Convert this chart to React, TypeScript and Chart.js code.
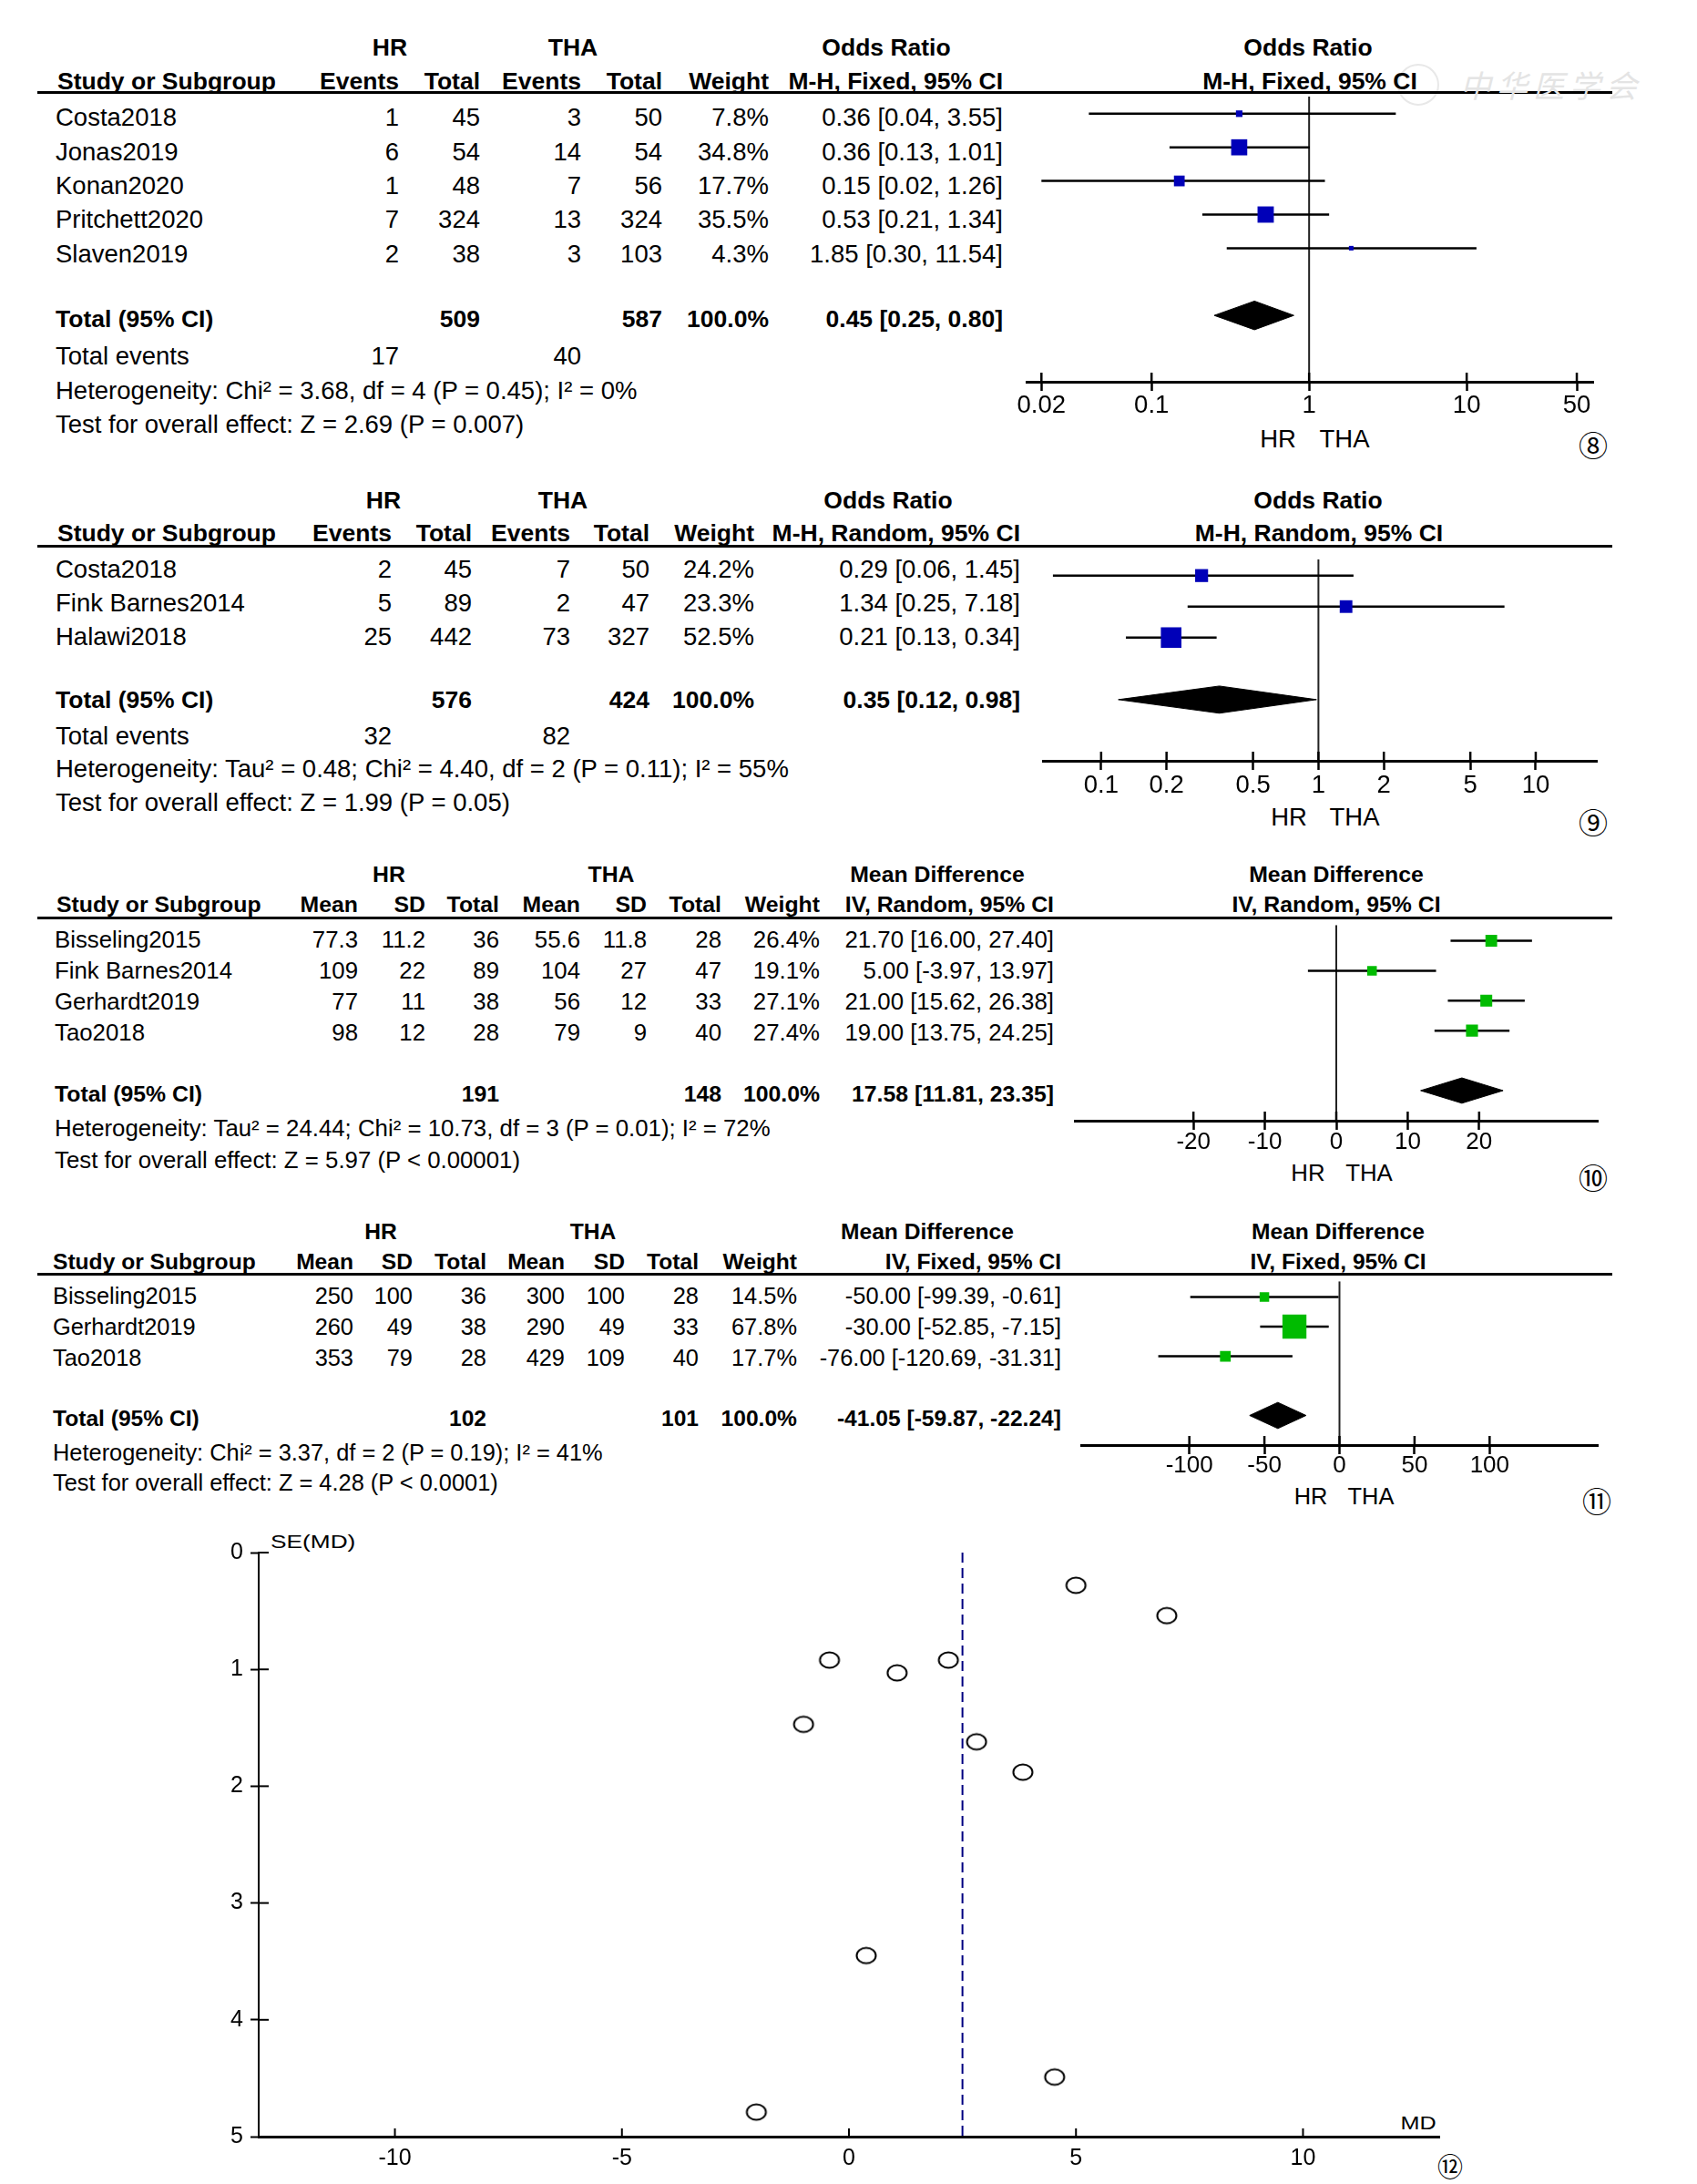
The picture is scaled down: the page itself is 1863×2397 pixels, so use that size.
import React, { useEffect, useRef } from "react";
import { Chart, registerables } from "chart.js";

Chart.register(...registerables);

const W = 1863;
const H = 2397;
const FONT = '"Liberation Sans", Arial, Helvetica, sans-serif';
const CJK = '"Noto Sans CJK SC", "Noto Sans CJK JP", sans-serif';

// ---------- Panel 8 : Odds Ratio, M-H fixed ----------
const p8Studies = ["Costa2018", "Jonas2019", "Konan2020", "Pritchett2020", "Slaven2019"];
const p8HrEvents = [1, 6, 1, 7, 2];
const p8HrTotal = [45, 54, 48, 324, 38];
const p8ThaEvents = [3, 14, 7, 13, 3];
const p8ThaTotal = [50, 54, 56, 324, 103];
const p8Weight = [7.8, 34.8, 17.7, 35.5, 4.3];
const p8Est = [0.36, 0.36, 0.15, 0.53, 1.85];
const p8Lo = [0.04, 0.13, 0.02, 0.21, 0.3];
const p8Hi = [3.55, 1.01, 1.26, 1.34, 11.54];
const p8Pooled = [0.45, 0.25, 0.8];
const p8Totals = [509, 587];
const p8Events = [17, 40];
const p8Ticks = [0.02, 0.1, 1, 10, 50];
const p8Het = "Heterogeneity: Chi² = 3.68, df = 4 (P = 0.45); I² = 0%";
const p8Test = "Test for overall effect: Z = 2.69 (P = 0.007)";

// ---------- Panel 9 : Odds Ratio, M-H random ----------
const p9Studies = ["Costa2018", "Fink Barnes2014", "Halawi2018"];
const p9HrEvents = [2, 5, 25];
const p9HrTotal = [45, 89, 442];
const p9ThaEvents = [7, 2, 73];
const p9ThaTotal = [50, 47, 327];
const p9Weight = [24.2, 23.3, 52.5];
const p9Est = [0.29, 1.34, 0.21];
const p9Lo = [0.06, 0.25, 0.13];
const p9Hi = [1.45, 7.18, 0.34];
const p9Pooled = [0.35, 0.12, 0.98];
const p9Totals = [576, 424];
const p9Events = [32, 82];
const p9Ticks = [0.1, 0.2, 0.5, 1, 2, 5, 10];
const p9Het = "Heterogeneity: Tau² = 0.48; Chi² = 4.40, df = 2 (P = 0.11); I² = 55%";
const p9Test = "Test for overall effect: Z = 1.99 (P = 0.05)";

// ---------- Panel 10 : Mean Difference, IV random ----------
const p10Studies = ["Bisseling2015", "Fink Barnes2014", "Gerhardt2019", "Tao2018"];
const p10HrMean = [77.3, 109, 77, 98];
const p10HrSD = [11.2, 22, 11, 12];
const p10HrTotal = [36, 89, 38, 28];
const p10ThaMean = [55.6, 104, 56, 79];
const p10ThaSD = [11.8, 27, 12, 9];
const p10ThaTotal = [28, 47, 33, 40];
const p10Weight = [26.4, 19.1, 27.1, 27.4];
const p10Est = [21.7, 5.0, 21.0, 19.0];
const p10Lo = [16.0, -3.97, 15.62, 13.75];
const p10Hi = [27.4, 13.97, 26.38, 24.25];
const p10Pooled = [17.58, 11.81, 23.35];
const p10Totals = [191, 148];
const p10Ticks = [-20, -10, 0, 10, 20];
const p10Het = "Heterogeneity: Tau² = 24.44; Chi² = 10.73, df = 3 (P = 0.01); I² = 72%";
const p10Test = "Test for overall effect: Z = 5.97 (P < 0.00001)";

// ---------- Panel 11 : Mean Difference, IV fixed ----------
const p11Studies = ["Bisseling2015", "Gerhardt2019", "Tao2018"];
const p11HrMean = [250, 260, 353];
const p11HrSD = [100, 49, 79];
const p11HrTotal = [36, 38, 28];
const p11ThaMean = [300, 290, 429];
const p11ThaSD = [100, 49, 109];
const p11ThaTotal = [28, 33, 40];
const p11Weight = [14.5, 67.8, 17.7];
const p11Est = [-50.0, -30.0, -76.0];
const p11Lo = [-99.39, -52.85, -120.69];
const p11Hi = [-0.61, -7.15, -31.31];
const p11Pooled = [-41.05, -59.87, -22.24];
const p11Totals = [102, 101];
const p11Ticks = [-100, -50, 0, 50, 100];
const p11Het = "Heterogeneity: Chi² = 3.37, df = 2 (P = 0.19); I² = 41%";
const p11Test = "Test for overall effect: Z = 4.28 (P < 0.0001)";

// ---------- Panel 12 : funnel plot ----------
const funnelMD = [5.0, 7.0, -0.43, 1.06, 2.19, -1.0, 2.81, 3.83, 0.38, 4.53, -2.04];
const funnelSE = [0.28, 0.54, 0.92, 1.03, 0.92, 1.47, 1.62, 1.88, 3.45, 4.49, 4.79];
const funnelPooled = 2.5;
const funnelXTicks = [-10, -5, 0, 5, 10];
const funnelYTicks = [0, 1, 2, 3, 4, 5];

// ---------- helpers ----------
const f2 = (v: number) => v.toFixed(2);
const ci = (e: number, l: number, h: number) => `${f2(e)} [${f2(l)}, ${f2(h)}]`;
const pct = (w: number) => `${w.toFixed(1)}%`;

type TextItem = { t: string; x: number; y: number; a?: "l" | "r" | "c"; b?: boolean; s?: number; c?: string; f?: string; sx?: number; i?: boolean; ls?: number };

function renderTexts(items: TextItem[], keyBase: string) {
  return items.map((it, k) => {
    const s = it.s ?? (it.b ? 26.5 : 27.5);
    const lh = Math.round(s * 1.2);
    const st: any = {
      position: "absolute",
      top: it.y - lh / 2,
      height: lh,
      lineHeight: `${lh}px`,
      fontSize: s,
      fontWeight: it.b ? 700 : 400,
      fontStyle: it.i ? "italic" : "normal",
      fontFamily: it.f ?? FONT,
      color: it.c ?? "#000",
      whiteSpace: "pre",
      margin: 0,
    };
    if (it.ls) st.letterSpacing = it.ls;
    if (it.a === "r") {
      st.right = W - it.x;
      st.textAlign = "right";
    } else if (it.a === "c") {
      st.left = it.x - 400;
      st.width = 800;
      st.textAlign = "center";
    } else st.left = it.x;
    if (it.sx) {
      st.transform = `scaleX(${it.sx})`;
      st.transformOrigin = it.a === "c" ? "center" : "left";
    }
    return (
      <div key={keyBase + k} style={st}>
        {it.t}
      </div>
    );
  });
}

type PanelText = {
  fs: number;
  fb: number;
  heads: [string, number][];
  headY: number;
  colHeads: string[];
  cols: number[];
  colY: number;
  studyX: number;
  names: string[];
  cells: string[][];
  rowYs: number[];
  nameX: number;
  totalY: number;
  totalCells: string[];
  eventsY?: number;
  eventsCells?: string[];
  notes: [string, number][];
  fTitle: string;
  fSub: string;
  fX: number;
  fX2: number;
  hrY: number;
  hrX: number;
  thaX: number;
  circ: string;
  circX: number;
  circY: number;
};

function tableTexts(p: PanelText): TextItem[] {
  const out: TextItem[] = [];
  const n = p.fs;
  const b = p.fb;
  p.heads.forEach(([t, x]) => out.push({ t, x, y: p.headY, a: "c", b: true, s: b }));
  out.push({ t: "Study or Subgroup", x: p.studyX, y: p.colY, b: true, s: b });
  p.colHeads.forEach((t, i) => out.push({ t, x: p.cols[i], y: p.colY, a: "r", b: true, s: b }));
  p.names.forEach((nm, i) => {
    out.push({ t: nm, x: p.nameX, y: p.rowYs[i], s: n });
    p.cells[i].forEach((c, j) => out.push({ t: c, x: p.cols[j], y: p.rowYs[i], a: "r", s: n }));
  });
  out.push({ t: "Total (95% CI)", x: p.nameX, y: p.totalY, b: true, s: b });
  p.totalCells.forEach((c, j) => {
    if (c) out.push({ t: c, x: p.cols[j], y: p.totalY, a: "r", b: true, s: b });
  });
  if (p.eventsCells && p.eventsY) {
    out.push({ t: "Total events", x: p.nameX, y: p.eventsY, s: n });
    p.eventsCells.forEach((c, j) => {
      if (c) out.push({ t: c, x: p.cols[j], y: p.eventsY as number, a: "r", s: n });
    });
  }
  p.notes.forEach(([t, y]) => out.push({ t, x: p.nameX, y, s: n }));
  out.push({ t: p.fTitle, x: p.fX, y: p.headY, a: "c", b: true, s: b });
  out.push({ t: p.fSub, x: p.fX2, y: p.colY, a: "c", b: true, s: b });
  out.push({ t: "HR", x: p.hrX, y: p.hrY, a: "c", s: n });
  out.push({ t: "THA", x: p.thaX, y: p.hrY, a: "c", s: n });
  out.push({ t: p.circ, x: p.circX, y: p.circY, a: "c", s: 32, f: CJK });
  return out;
}

const orCells = (ev1: number[], t1: number[], ev2: number[], t2: number[], w: number[], e: number[], l: number[], h: number[]) =>
  e.map((_, i) => [String(ev1[i]), String(t1[i]), String(ev2[i]), String(t2[i]), pct(w[i]), ci(e[i], l[i], h[i])]);

const mdCells = (m1: number[], s1: number[], t1: number[], m2: number[], s2: number[], t2: number[], w: number[], e: number[], l: number[], h: number[]) =>
  e.map((_, i) => [String(m1[i]), String(s1[i]), String(t1[i]), String(m2[i]), String(s2[i]), String(t2[i]), pct(w[i]), ci(e[i], l[i], h[i])]);

const panel8: PanelText = {
  fs: 27.5,
  fb: 26.5,
  heads: [["HR", 428], ["THA", 629], ["Odds Ratio", 973]],
  headY: 52,
  colHeads: ["Events", "Total", "Events", "Total", "Weight", "M-H, Fixed, 95% CI"],
  cols: [438, 527, 638, 727, 844, 1101],
  colY: 89,
  studyX: 63,
  names: p8Studies,
  cells: orCells(p8HrEvents, p8HrTotal, p8ThaEvents, p8ThaTotal, p8Weight, p8Est, p8Lo, p8Hi),
  rowYs: [128, 166, 203, 240, 278],
  nameX: 61,
  totalY: 350,
  totalCells: ["", String(p8Totals[0]), "", String(p8Totals[1]), pct(100), ci(p8Pooled[0], p8Pooled[1], p8Pooled[2])],
  eventsY: 390,
  eventsCells: [String(p8Events[0]), "", String(p8Events[1]), "", "", ""],
  notes: [[p8Het, 428], [p8Test, 465]],
  fTitle: "Odds Ratio",
  fSub: "M-H, Fixed, 95% CI",
  fX: 1436,
  fX2: 1438,
  hrY: 481,
  hrX: 1403,
  thaX: 1476,
  circ: "⑧",
  circX: 1749,
  circY: 487,
};

const panel9: PanelText = {
  fs: 27.5,
  fb: 26.5,
  heads: [["HR", 421], ["THA", 618], ["Odds Ratio", 975]],
  headY: 549,
  colHeads: ["Events", "Total", "Events", "Total", "Weight", "M-H, Random, 95% CI"],
  cols: [430, 518, 626, 713, 828, 1120],
  colY: 585,
  studyX: 63,
  names: p9Studies,
  cells: orCells(p9HrEvents, p9HrTotal, p9ThaEvents, p9ThaTotal, p9Weight, p9Est, p9Lo, p9Hi),
  rowYs: [624, 661, 698],
  nameX: 61,
  totalY: 768,
  totalCells: ["", String(p9Totals[0]), "", String(p9Totals[1]), pct(100), ci(p9Pooled[0], p9Pooled[1], p9Pooled[2])],
  eventsY: 807,
  eventsCells: [String(p9Events[0]), "", String(p9Events[1]), "", "", ""],
  notes: [[p9Het, 843], [p9Test, 880]],
  fTitle: "Odds Ratio",
  fSub: "M-H, Random, 95% CI",
  fX: 1447,
  fX2: 1448,
  hrY: 896,
  hrX: 1415,
  thaX: 1487,
  circ: "⑨",
  circX: 1749,
  circY: 901,
};

const panel10: PanelText = {
  fs: 25.8,
  fb: 24.8,
  heads: [["HR", 427], ["THA", 671], ["Mean Difference", 1029]],
  headY: 960,
  colHeads: ["Mean", "SD", "Total", "Mean", "SD", "Total", "Weight", "IV, Random, 95% CI"],
  cols: [393, 467, 548, 637, 710, 792, 900, 1157],
  colY: 993,
  studyX: 62,
  names: p10Studies,
  cells: mdCells(p10HrMean, p10HrSD, p10HrTotal, p10ThaMean, p10ThaSD, p10ThaTotal, p10Weight, p10Est, p10Lo, p10Hi),
  rowYs: [1031, 1065, 1099, 1133],
  nameX: 60,
  totalY: 1201,
  totalCells: ["", "", String(p10Totals[0]), "", "", String(p10Totals[1]), pct(100), ci(p10Pooled[0], p10Pooled[1], p10Pooled[2])],
  notes: [[p10Het, 1238], [p10Test, 1273]],
  fTitle: "Mean Difference",
  fSub: "IV, Random, 95% CI",
  fX: 1467,
  fX2: 1467,
  hrY: 1287,
  hrX: 1436,
  thaX: 1503,
  circ: "⑩",
  circX: 1749,
  circY: 1291,
};

const panel11: PanelText = {
  fs: 25.4,
  fb: 24.6,
  heads: [["HR", 418], ["THA", 651], ["Mean Difference", 1018]],
  headY: 1352,
  colHeads: ["Mean", "SD", "Total", "Mean", "SD", "Total", "Weight", "IV, Fixed, 95% CI"],
  cols: [388, 453, 534, 620, 686, 767, 875, 1165],
  colY: 1385,
  studyX: 58,
  names: p11Studies,
  cells: mdCells(p11HrMean, p11HrSD, p11HrTotal, p11ThaMean, p11ThaSD, p11ThaTotal, p11Weight, p11Est, p11Lo, p11Hi),
  rowYs: [1422, 1456, 1490],
  nameX: 58,
  totalY: 1557,
  totalCells: ["", "", String(p11Totals[0]), "", "", String(p11Totals[1]), pct(100), ci(p11Pooled[0], p11Pooled[1], p11Pooled[2])],
  notes: [[p11Het, 1594], [p11Test, 1627]],
  fTitle: "Mean Difference",
  fSub: "IV, Fixed, 95% CI",
  fX: 1469,
  fX2: 1469,
  hrY: 1642,
  hrX: 1439,
  thaX: 1505,
  circ: "⑪",
  circX: 1753,
  circY: 1646,
};

const headerLines = [101, 599, 1007, 1398];

// ---------- chart plumbing ----------
function innerTicks(xLen: number, yLen: number, width: number) {
  return {
    id: "innerTicks",
    afterDraw(chart: any) {
      const { ctx, chartArea: a, scales } = chart;
      ctx.save();
      ctx.strokeStyle = "#000";
      ctx.lineWidth = width;
      if (xLen > 0) {
        for (const t of scales.x.ticks) {
          const px = scales.x.getPixelForValue(t.value);
          ctx.beginPath();
          ctx.moveTo(px, a.bottom);
          ctx.lineTo(px, a.bottom - xLen);
          ctx.stroke();
        }
      }
      if (yLen > 0) {
        for (const t of scales.y.ticks) {
          const py = scales.y.getPixelForValue(t.value);
          ctx.beginPath();
          ctx.moveTo(a.left, py);
          ctx.lineTo(a.left + yLen, py);
          ctx.stroke();
        }
      }
      ctx.restore();
    },
  };
}

type ForestSpec = {
  xType: "logarithmic" | "linear";
  xMin: number;
  xMax: number;
  ticks: number[];
  nullV: number;
  est: number[];
  lo: number[];
  hi: number[];
  weight: number[];
  pooled: number[];
  color: string;
  k: number;
  left: number;
  right: number;
  top: number;
  axisY: number;
  firstRowY: number;
  rowGap: number;
  diamondHalf: number;
  labelGap: number;
  fs: number;
};

const PADX = 45;
const XH = 50;
const TL = 10;
const BLUE = "#0000b8";
const GREEN = "#00bb00";

function forestBox(s: ForestSpec) {
  return { left: s.left - PADX, top: s.top, width: s.right - s.left + 2 * PADX, height: s.axisY - s.top + XH };
}

function forestConfig(s: ForestSpec): any {
  const yMin = 1 - (s.firstRowY - s.top) / s.rowGap;
  const yMax = 1 + (s.axisY - s.firstRowY) / s.rowGap;
  const ds: any[] = [];
  ds.push({
    data: [{ x: s.nullV, y: yMin }, { x: s.nullV, y: yMax }],
    borderColor: "#222",
    borderWidth: 2,
    pointRadius: 0,
    order: 4,
  });
  s.est.forEach((_, i) =>
    ds.push({
      data: [{ x: s.lo[i], y: i + 1 }, { x: s.hi[i], y: i + 1 }],
      borderColor: "#000",
      borderWidth: 2.5,
      pointRadius: 0,
      order: 3,
    })
  );
  ds.push({
    data: s.est.map((e, i) => ({ x: e, y: i + 1 })),
    showLine: false,
    pointStyle: "rect",
    pointRadius: s.weight.map((w) => (s.k * Math.pow(w, 0.6)) / Math.SQRT2),
    pointBackgroundColor: s.color,
    pointBorderColor: s.color,
    pointBorderWidth: 0,
    order: 1,
  });
  const d = s.est.length + 2;
  const h = s.diamondHalf / s.rowGap;
  const [pe, pl, ph] = s.pooled;
  ds.push({
    data: [
      { x: pl, y: d },
      { x: pe, y: d - h },
      { x: ph, y: d },
      { x: pe, y: d + h },
      { x: pl, y: d },
    ],
    borderColor: "#000",
    backgroundColor: "#000",
    borderWidth: 1,
    fill: "shape",
    pointRadius: 0,
    order: 2,
  });
  return {
    type: "line",
    data: { datasets: ds },
    options: {
      animation: false,
      responsive: false,
      devicePixelRatio: 1,
      events: [],
      layout: { padding: { left: PADX, right: PADX, top: 0, bottom: 0 } },
      plugins: { legend: { display: false }, tooltip: { enabled: false } },
      scales: {
        x: {
          type: s.xType,
          min: s.xMin,
          max: s.xMax,
          afterBuildTicks: (sc: any) => {
            sc.ticks = s.ticks.map((v) => ({ value: v }));
          },
          afterFit: (sc: any) => {
            sc.height = XH;
          },
          grid: { display: true, drawOnChartArea: false, drawTicks: true, tickLength: TL, tickWidth: 2.5, tickColor: "#000" },
          border: { display: true, color: "#000", width: 3 },
          ticks: {
            autoSkip: false,
            maxRotation: 0,
            minRotation: 0,
            padding: s.labelGap - TL - s.fs * 0.6,
            color: "#000",
            font: { family: FONT, size: s.fs },
            callback: (v: any) => String(v),
          },
        },
        y: { type: "linear", display: false, reverse: true, min: yMin, max: yMax },
      },
    },
    plugins: [innerTicks(10, 0, 2.5)],
  };
}

const forest8: ForestSpec = {
  xType: "logarithmic", xMin: 0.0161, xMax: 63.5, ticks: p8Ticks, nullV: 1,
  est: p8Est, lo: p8Lo, hi: p8Hi, weight: p8Weight, pooled: p8Pooled, color: BLUE, k: 2.1,
  left: 1127, right: 1749, top: 101, axisY: 419, firstRowY: 120, rowGap: 37.5, diamondHalf: 16, labelGap: 26, fs: 27.5,
};
const forest9: ForestSpec = {
  xType: "logarithmic", xMin: 0.054, xMax: 19.1, ticks: p9Ticks, nullV: 1,
  est: p9Est, lo: p9Lo, hi: p9Hi, weight: p9Weight, pooled: p9Pooled, color: BLUE, k: 2.1,
  left: 1145, right: 1753, top: 598, axisY: 835, firstRowY: 617, rowGap: 36.5, diamondHalf: 16, labelGap: 27, fs: 27.5,
};
const forest10: ForestSpec = {
  xType: "linear", xMin: -36.6, xMax: 36.6, ticks: p10Ticks, nullV: 0,
  est: p10Est, lo: p10Lo, hi: p10Hi, weight: p10Weight, pooled: p10Pooled, color: GREEN, k: 1.8,
  left: 1180, right: 1754, top: 1006, axisY: 1230, firstRowY: 1024, rowGap: 34.3, diamondHalf: 14.5, labelGap: 24, fs: 26,
};
const forest11: ForestSpec = {
  xType: "linear", xMin: -172, xMax: 172, ticks: p11Ticks, nullV: 0,
  est: p11Est, lo: p11Lo, hi: p11Hi, weight: p11Weight, pooled: p11Pooled, color: GREEN, k: 2.1,
  left: 1187, right: 1754, top: 1398, axisY: 1586, firstRowY: 1416, rowGap: 34, diamondHalf: 15, labelGap: 23, fs: 26,
};

// funnel geometry
const FN = { left: 284, right: 1580, top: 1701, bottom: 2345, padL: 5, padR: 40, padT: 20, padB: 5, yW: 75, xH: 44 };
const funnelBox = {
  left: FN.left - FN.yW - FN.padL,
  top: FN.top - FN.padT,
  width: FN.padL + FN.yW + (FN.right - FN.left) + FN.padR,
  height: FN.padT + (FN.bottom - FN.top) + FN.xH + FN.padB,
};
const FFS = 25;

function makeEllipse(): HTMLCanvasElement {
  const c = document.createElement("canvas");
  c.width = 26;
  c.height = 22;
  const g = c.getContext("2d") as CanvasRenderingContext2D;
  g.strokeStyle = "#000";
  g.lineWidth = 2;
  g.beginPath();
  g.ellipse(13, 11, 10.5, 8.5, 0, 0, Math.PI * 2);
  g.stroke();
  return c;
}

function funnelConfig(): any {
  const marker = makeEllipse();
  return {
    type: "line",
    data: {
      datasets: [
        {
          data: [
            { x: funnelPooled, y: funnelYTicks[0] },
            { x: funnelPooled, y: funnelYTicks[funnelYTicks.length - 1] },
          ],
          borderColor: "#000080",
          borderWidth: 2,
          borderDash: [11, 6],
          pointRadius: 0,
          order: 2,
        },
        {
          data: funnelMD.map((x, i) => ({ x, y: funnelSE[i] })),
          showLine: false,
          pointStyle: marker,
          pointRadius: 10,
          order: 1,
        },
      ],
    },
    options: {
      animation: false,
      responsive: false,
      devicePixelRatio: 1,
      events: [],
      layout: { padding: { left: FN.padL, right: FN.padR, top: FN.padT, bottom: FN.padB } },
      plugins: { legend: { display: false }, tooltip: { enabled: false } },
      scales: {
        x: {
          type: "linear",
          min: -13,
          max: 13,
          afterBuildTicks: (sc: any) => {
            sc.ticks = funnelXTicks.map((v) => ({ value: v }));
          },
          afterFit: (sc: any) => {
            sc.height = FN.xH;
          },
          grid: { display: true, drawOnChartArea: false, drawTicks: false },
          border: { display: true, color: "#000", width: 3 },
          ticks: { autoSkip: false, maxRotation: 0, padding: 9, color: "#000", font: { family: FONT, size: FFS }, callback: (v: any) => String(v) },
        },
        y: {
          type: "linear",
          reverse: true,
          min: 0,
          max: 5,
          afterBuildTicks: (sc: any) => {
            sc.ticks = funnelYTicks.map((v) => ({ value: v }));
          },
          afterFit: (sc: any) => {
            sc.width = FN.yW;
          },
          grid: { display: true, drawOnChartArea: false, drawTicks: true, tickLength: 9, tickWidth: 2, tickColor: "#000" },
          border: { display: true, color: "#000", width: 2 },
          ticks: { autoSkip: false, padding: 8, color: "#000", font: { family: FONT, size: FFS }, callback: (v: any) => String(v) },
        },
      },
    },
    plugins: [innerTicks(9, 11, 2)],
  };
}

function ChartCanvas({ box, make }: { box: { left: number; top: number; width: number; height: number }; make: () => any }) {
  const ref = useRef<HTMLCanvasElement | null>(null);
  useEffect(() => {
    if (!ref.current) return;
    const chart = new Chart(ref.current, make());
    return () => chart.destroy();
  }, []);
  return (
    <canvas
      ref={ref}
      width={box.width}
      height={box.height}
      style={{ position: "absolute", left: box.left, top: box.top, width: box.width, height: box.height }}
    />
  );
}

const funnelTexts: TextItem[] = [
  { t: "SE(MD)", x: 297, y: 1691, s: 21, sx: 1.25 },
  { t: "MD", x: 1557, y: 2329, a: "c", s: 21, sx: 1.2 },
  { t: "⑫", x: 1592, y: 2377, a: "c", s: 28, f: CJK },
];

const watermark: TextItem[] = [{ t: "中华医学会", x: 1603, y: 92, s: 34, c: "#e4e4e4", f: CJK, i: true, ls: 6 }];

export default function App() {
  const texts = [
    ...renderTexts(tableTexts(panel8), "a"),
    ...renderTexts(tableTexts(panel9), "b"),
    ...renderTexts(tableTexts(panel10), "c"),
    ...renderTexts(tableTexts(panel11), "d"),
    ...renderTexts(funnelTexts, "e"),
    ...renderTexts(watermark, "f"),
  ];
  return (
    <div style={{ position: "absolute", left: 0, top: 0, width: W, height: H, background: "#fff", overflow: "hidden" }}>
      <div
        style={{ position: "absolute", left: 1534, top: 70, width: 42, height: 42, borderRadius: "50%", border: "2px solid #e8e8e8" }}
      />
      {headerLines.map((y, i) => (
        <div key={"hl" + i} style={{ position: "absolute", left: 41, top: y - 1.5, width: 1729, height: 3, background: "#000" }} />
      ))}
      {texts}
      <ChartCanvas box={forestBox(forest8)} make={() => forestConfig(forest8)} />
      <ChartCanvas box={forestBox(forest9)} make={() => forestConfig(forest9)} />
      <ChartCanvas box={forestBox(forest10)} make={() => forestConfig(forest10)} />
      <ChartCanvas box={forestBox(forest11)} make={() => forestConfig(forest11)} />
      <ChartCanvas box={funnelBox} make={funnelConfig} />
    </div>
  );
}
